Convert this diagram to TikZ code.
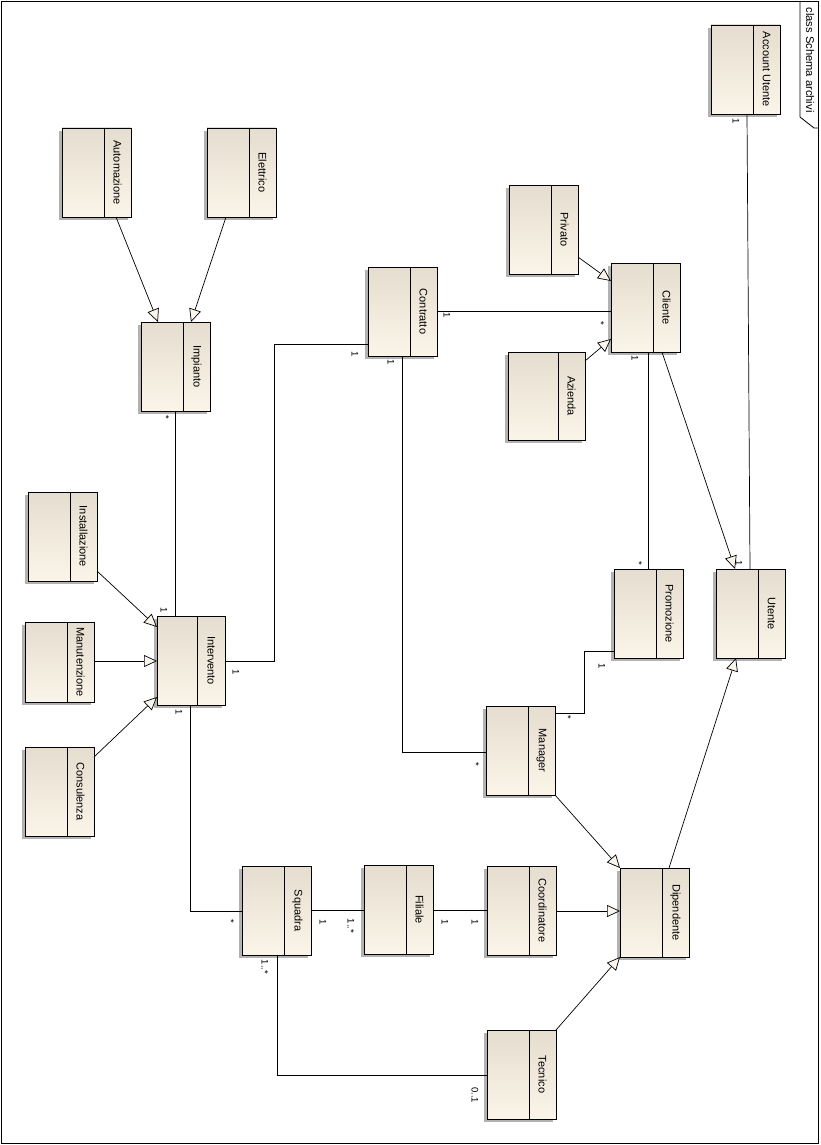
\documentclass[tikz,border=0pt]{standalone}
\usepackage{fontspec}
\setmainfont{Liberation Sans}
\usetikzlibrary{arrows.meta,calc}
\definecolor{boxtop}{RGB}{229,221,207}
\definecolor{boxbot}{RGB}{251,245,233}
\definecolor{shadowc}{RGB}{178,178,178}
\definecolor{trifill}{RGB}{250,246,238}
\tikzset{
  clsbox/.style={draw, line width=0.8pt, rectangle, inner sep=0pt, outer sep=0pt, top color=boxtop, bottom color=boxbot},
  clsname/.style={rotate=-90, inner sep=0pt, font=\fontsize{11}{12}\selectfont},
  mult/.style={rotate=-90, inner sep=0pt, font=\fontsize{9.5}{11}\selectfont},
  conn/.style={line width=0.7pt},
  gen/.style={line width=0.7pt, -{Triangle[length=13pt, width=12pt, fill=trifill, line width=0.7pt]}},
}
\newcommand{\umlclass}[7]{%
  \fill[shadowc] ({#2-3},{#3+3}) rectangle ({#4-3},{#5+3});
  \node[clsbox, minimum width={(#4-#2)*1pt}, minimum height={(#5-#3)*1pt}] (#1) at ({(#2+#4)/2},{(#3+#5)/2}) {};
  \draw[line width=0.8pt] (#1.north -| #6,0) -- (#1.south -| #6,0);
  \node[clsname] (#1-name) at ({(#6+#4)/2},{(#3+#5)/2}) {#7};
}
\begin{document}
\begin{tikzpicture}[x=1pt, y=-1pt]
\useasboundingbox (0,0) rectangle (821,1145);
% frame
\draw[line width=0.8pt] (1,1) rectangle (818,1143);
\draw[line width=0.8pt] (800,1) -- (800,117) -- (814,128) -- (818,128);
\node[clsname, font=\fontsize{11.2}{12}\selectfont] (title) at (810,60) {class Schema archivi};
% classes
\umlclass{automazione}{62}{128}{131}{217}{104}{Automazione}
\umlclass{elettrico}{207}{128}{276}{217}{249}{Elettrico}
\umlclass{impianto}{141}{322}{210}{411}{183}{Impianto}
\umlclass{account}{711}{25}{780}{114}{753}{Account Utente}
\umlclass{privato}{509}{185}{578}{274}{551}{Privato}
\umlclass{cliente}{611}{263}{680}{352}{653}{Cliente}
\umlclass{contratto}{368}{267}{437}{356}{410}{Contratto}
\umlclass{azienda}{508}{352}{585}{440}{558}{Azienda}
\umlclass{installazione}{28}{492}{97}{581}{70}{Installazione}
\umlclass{manutenzione}{25}{622}{94}{702}{67}{Manutenzione}
\umlclass{consulenza}{25}{747}{94}{836}{67}{Consulenza}
\umlclass{intervento}{157}{616}{225}{705}{197.5}{Intervento}
\umlclass{promozione}{614}{569}{683}{658}{656}{Promozione}
\umlclass{utente}{716}{569}{785}{658}{758}{Utente}
\umlclass{manager}{486}{706}{555}{795}{528}{Manager}
\umlclass{squadra}{242}{866}{311}{955}{284}{Squadra}
\umlclass{filiale}{364}{865}{433}{954}{406}{Filiale}
\umlclass{coordinatore}{487}{866}{556}{955}{529}{Coordinatore}
\umlclass{dipendente}{620}{868}{689}{957}{662}{Dipendente}
\umlclass{tecnico}{487}{1030}{556}{1119}{529}{Tecnico}
% generalizations
\draw[gen] (automazione.south -| 116,0) -- (impianto.north -| 158,0);
\draw[gen] (elettrico.south -| 226,0) -- (impianto.north -| 191,0);
\draw[gen] (installazione.east |- 0,571) -- (intervento.west |- 0,627);
\draw[gen] (manutenzione.east |- 0,661) -- (intervento.west |- 0,661);
\draw[gen] (consulenza.east |- 0,757) -- (intervento.west |- 0,697);
\draw[gen] (privato.east |- 0,257) -- (cliente.west |- 0,281);
\draw[gen] (azienda.east |- 0,361) -- (cliente.west |- 0,339);
\draw[gen] (cliente.south -| 662,0) -- (utente.north -| 735,0);
\draw[gen] (manager.south east) -- (dipendente.north west);
\draw[gen] (coordinatore.east |- 0,911) -- (dipendente.west |- 0,911);
\draw[gen] (tecnico.north east) -- (dipendente.south west);
\draw[gen] (dipendente.north -| 669,0) -- (utente.south -| 736,0);
% associations
\draw[conn] (impianto.south -| 175,0) -- (intervento.north -| 175,0);
\draw[conn] (intervento.east |- 0,661) -| (274,344) -- (contratto.west |- 0,344);
\draw[conn] (contratto.east |- 0,311) -- (cliente.west |- 0,311);
\draw[conn] (cliente.south -| 648,0) -- (promozione.north -| 648,0);
\draw[conn] (account.south -| 747,0) -- (utente.north -| 750,0);
\draw[conn] (contratto.south -| 402,0) |- (manager.west |- 0,752);
\draw[conn] (manager.east |- 0,713) -| (584,651) -- (promozione.west |- 0,651);
\draw[conn] (intervento.south -| 190,0) |- (squadra.west |- 0,911);
\draw[conn] (squadra.east |- 0,910) -- (filiale.west |- 0,910);
\draw[conn] (filiale.east |- 0,910) -- (coordinatore.west |- 0,910);
\draw[conn] (squadra.south -| 277,0) |- (tecnico.west |- 0,1075);
% multiplicities
\node[mult] (m1) at (166,417) {*};
\node[mult] (m2) at (164,610) {1};
\node[mult] (m3) at (236,672) {1};
\node[mult] (m4) at (355,354) {1};
\node[mult] (m5) at (447,315) {1};
\node[mult] (m6) at (601,323) {*};
\node[mult] (m7) at (635,358) {1};
\node[mult] (m8) at (639,563) {*};
\node[mult] (m9) at (736,121) {1};
\node[mult] (m10) at (739,563) {1};
\node[mult] (m11) at (391,362) {1};
\node[mult] (m12) at (476,764) {*};
\node[mult] (m13) at (568,717) {*};
\node[mult] (m14) at (602,666) {1};
\node[mult] (m15) at (179,712) {1};
\node[mult] (m16) at (231,921) {*};
\node[mult] (m17) at (323,922) {1};
\node[mult] (m18) at (351,926) {1..*};
\node[mult] (m19) at (445,922) {1};
\node[mult] (m20) at (475,922) {1};
\node[mult] (m21) at (265,967) {1..*};
\node[mult] (m22) at (475,1095) {0..1};
\end{tikzpicture}
\end{document}
